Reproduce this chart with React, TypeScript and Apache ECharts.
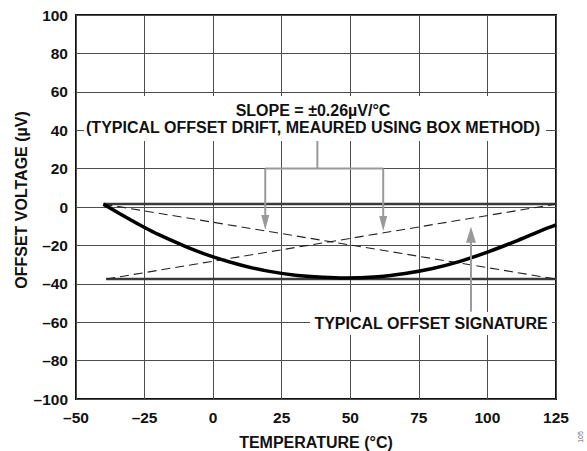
import React, { useEffect, useRef } from "react";
import * as echarts from "echarts";

// Axis ranges / ticks
const xMin = -50, xMax = 125, xStep = 25;
const yMin = -100, yMax = 100, yStep = 20;

// Typical offset signature
const curveT = [-40, -30, -25, -20, -10, 0, 10, 20, 30, 40, 48, 60, 70, 80, 90, 100, 110, 120, 125];
const curveV = [1.5, -6.8, -10.7, -14.3, -20.6, -26, -30.2, -33.4, -35.5, -36.6, -37, -36.3, -34.6, -32, -28.3, -23.5, -18, -12, -9.3];

// Box method lines
const boxTopV = 1.5;
const boxBottomV = -37.5;
const boxTopStartT = -40;
const boxBottomStartT = -39;
const boxEndT = 125;

// Annotation anchors (data coordinates)
const slopeText = ["SLOPE = ±0.26µV/°C", "(TYPICAL OFFSET DRIFT, MEAURED USING BOX METHOD)"];
const signatureText = "TYPICAL OFFSET SIGNATURE";
const bracketStemT = 38;
const bracketTopV = 35;
const bracketV = 20;
const downArrowT = [19, 62];
const downArrowTipV = [-12, -12.5];
const upArrowT = 94;
const upArrowTipV = -10.3;
const upArrowBaseV = -54.5;

const FONT = "'Liberation Sans', Arial, sans-serif";
const dash = (s: string) => s.replace("-", "–");

export default function App() {
  const ref = useRef<HTMLDivElement>(null);
  useEffect(() => {
    const chart = echarts.init(ref.current!, null, { renderer: "svg" });
    const lineSeries = (data: number[][], color: string, width: number, type: any = "solid", z = 3) => ({
      type: "line",
      data,
      symbol: "none",
      silent: true,
      z,
      lineStyle: { color, width, type },
    });
    const option: any = {
      animation: false,
      backgroundColor: "#fff",
      grid: {
        left: 76, top: 15, width: 480, height: 384,
        outerBoundsMode: "none", containLabel: false,
        show: true, borderColor: "#111", borderWidth: 2, backgroundColor: "transparent",
      },
      xAxis: {
        type: "value", min: xMin, max: xMax, interval: xStep,
        axisLine: { show: false },
        axisTick: { show: false },
        splitLine: { show: true, lineStyle: { color: "#4d4d4d", width: 1 } },
        axisLabel: {
          margin: 10, color: "#111", fontWeight: "bold", fontSize: 15.5, fontFamily: FONT,
          formatter: (v: number) => dash(String(v)),
        },
        name: "TEMPERATURE (°C)", nameLocation: "middle", nameGap: 35,
        nameTextStyle: { color: "#111", fontWeight: "bold", fontSize: 16, fontFamily: FONT },
      },
      yAxis: {
        type: "value", min: yMin, max: yMax, interval: yStep,
        axisLine: { show: false },
        axisTick: { show: false },
        splitLine: { show: true, lineStyle: { color: "#4d4d4d", width: 1 } },
        axisLabel: {
          margin: 8, color: "#111", fontWeight: "bold", fontSize: 15.5, fontFamily: FONT,
          formatter: (v: number) => dash(String(v)),
        },
      },
      series: [
        lineSeries([[boxTopStartT, boxTopV], [boxEndT, boxTopV]], "#3a3a3a", 2.5),
        lineSeries([[boxBottomStartT, boxBottomV], [boxEndT, boxBottomV]], "#3a3a3a", 2.5),
        lineSeries([[boxTopStartT, boxTopV], [boxEndT, boxBottomV]], "#222", 1.1, [9, 5]),
        lineSeries([[boxBottomStartT, boxBottomV], [boxEndT, boxTopV]], "#222", 1.1, [9, 5]),
        { ...lineSeries(curveT.map((t, i) => [t, curveV[i]]), "#000", 3.5, "solid", 5), smooth: 0.3 },
      ],
    };
    chart.setOption(option);

    const p = (t: number, v: number) => chart.convertToPixel({ gridIndex: 0 }, [t, v]) as number[];
    const gray = "#9a9a9a";
    const g: any[] = [];
    const s0 = p(bracketStemT, bracketTopV);
    g.push({ type: "rect", z: 50, shape: { x: 84, y: 96, width: 462, height: 45 }, style: { fill: "#fff" } });
    g.push({
      type: "text", z: 51, x: 313, y: 110,
      style: { text: slopeText[0], font: `bold 16px ${FONT}`, fill: "#111", align: "center", verticalAlign: "middle" },
    });
    g.push({
      type: "text", z: 51, x: 313, y: 127,
      style: { text: slopeText[1], font: `bold 16px ${FONT}`, fill: "#111", align: "center", verticalAlign: "middle" },
    });
    const sb = p(bracketStemT, bracketV);
    g.push({ type: "line", z: 40, shape: { x1: s0[0], y1: s0[1], x2: sb[0], y2: sb[1] }, style: { stroke: gray, lineWidth: 2 } });
    const bl = p(downArrowT[0], bracketV);
    const br = p(downArrowT[1], bracketV);
    g.push({ type: "line", z: 40, shape: { x1: bl[0], y1: bl[1], x2: br[0], y2: br[1] }, style: { stroke: gray, lineWidth: 2 } });
    downArrowT.forEach((t, i) => {
      const top = p(t, bracketV);
      const tip = p(t, downArrowTipV[i]);
      g.push({ type: "line", z: 40, shape: { x1: top[0], y1: top[1], x2: tip[0], y2: tip[1] - 12 }, style: { stroke: gray, lineWidth: 2 } });
      g.push({
        type: "polygon", z: 40,
        shape: { points: [[tip[0] - 4, tip[1] - 15], [tip[0] + 4, tip[1] - 15], [tip[0], tip[1]]] },
        style: { fill: gray },
      });
    });
    const ub = p(upArrowT, upArrowBaseV);
    const ut = p(upArrowT, upArrowTipV);
    g.push({ type: "line", z: 40, shape: { x1: ub[0], y1: ub[1], x2: ut[0], y2: ut[1] + 12 }, style: { stroke: gray, lineWidth: 2 } });
    g.push({
      type: "polygon", z: 40,
      shape: { points: [[ut[0] - 5, ut[1] + 16], [ut[0] + 5, ut[1] + 16], [ut[0], ut[1]]] },
      style: { fill: gray },
    });
    g.push({ type: "rect", z: 50, shape: { x: 310, y: 312, width: 242, height: 23 }, style: { fill: "#fff" } });
    g.push({
      type: "text", z: 51, x: 431, y: 323,
      style: { text: signatureText, font: `bold 16px ${FONT}`, fill: "#111", align: "center", verticalAlign: "middle" },
    });
    g.push({
      type: "text", z: 51, x: 21, y: 200, rotation: Math.PI / 2,
      style: { text: "OFFSET VOLTAGE (µV)", font: `bold 16px ${FONT}`, fill: "#111", align: "center", verticalAlign: "middle" },
    });
    g.push({
      type: "text", z: 51, x: 580, y: 437, rotation: Math.PI / 2,
      style: { text: "105", font: `7px ${FONT}`, fill: "#666", align: "center", verticalAlign: "middle" },
    });
    chart.setOption({ graphic: g });
    return () => chart.dispose();
  }, []);
  return <div ref={ref} style={{ position: "absolute", left: 0, top: 0, width: 587, height: 451 }} />;
}
